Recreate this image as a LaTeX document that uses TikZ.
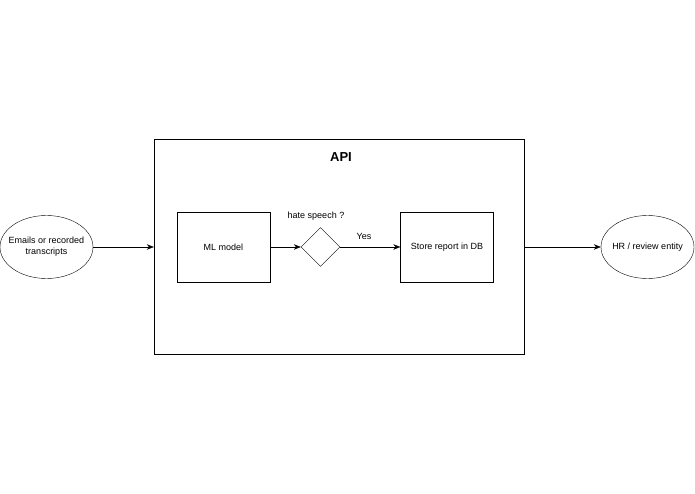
\documentclass[tikz,border=0pt]{standalone}
\usepackage{fontspec}
\setmainfont{Liberation Sans}
\usepackage{tikz}
\usetikzlibrary{shapes.geometric,arrows.meta}
\tikzstyle{box}=[fill=white, draw=black, shape=rectangle, minimum width=93pt, minimum height=70pt, inner sep=0pt]
\tikzstyle{end node}=[fill=white, draw=black, shape=ellipse, minimum width=93pt, minimum height=63pt, inner xsep=-12pt, inner ysep=0pt, align=center]
\tikzstyle{decision}=[fill=white, draw=black, shape=diamond, minimum width=39pt, minimum height=39pt, inner sep=0pt]
\tikzstyle{text only}=[inner sep=0pt]
\tikzstyle{flow}=[-{Stealth[length=7pt,width=5.5pt]}]
\pgfdeclarelayer{nodelayer}
\pgfdeclarelayer{edgelayer}
\pgfsetlayers{edgelayer,nodelayer}
\begin{document}
\begin{tikzpicture}[x=1pt, y=-1pt, line width=0.9pt, every node/.style={font=\fontsize{9}{11}\selectfont}]
	\useasboundingbox (0, 0) rectangle (695, 494);
	\begin{pgfonlayer}{nodelayer}
		\node [style=end node] (0) at (46.5, 247) {Emails or recorded\\transcripts};
		\node [draw=black, minimum width=370pt, minimum height=215pt, inner sep=0pt] (1) at (339, 246.5) {};
		\node [style=text only, font=\bfseries\fontsize{13}{15}\selectfont] (2) at (341, 157) {API};
		\node [style=box] (3) at (223.5, 247) {ML model};
		\node [style=decision] (4) at (320.5, 247) {};
		\node [style=text only] (5) at (316, 216) {hate speech ?};
		\node [style=box] (6) at (447, 247) {Store report in DB};
		\node [style=end node] (7) at (647.5, 247) {HR / review entity};
		\node [style=text only] (8) at (364, 236) {Yes};
	\end{pgfonlayer}
	\begin{pgfonlayer}{edgelayer}
		\draw [style=flow] (0) to (1.west |- 0);
		\draw [style=flow] (3) to (4);
		\draw [style=flow] (4) to (6);
		\draw [style=flow] (1.east |- 7) to (7);
	\end{pgfonlayer}
\end{tikzpicture}
\end{document}
